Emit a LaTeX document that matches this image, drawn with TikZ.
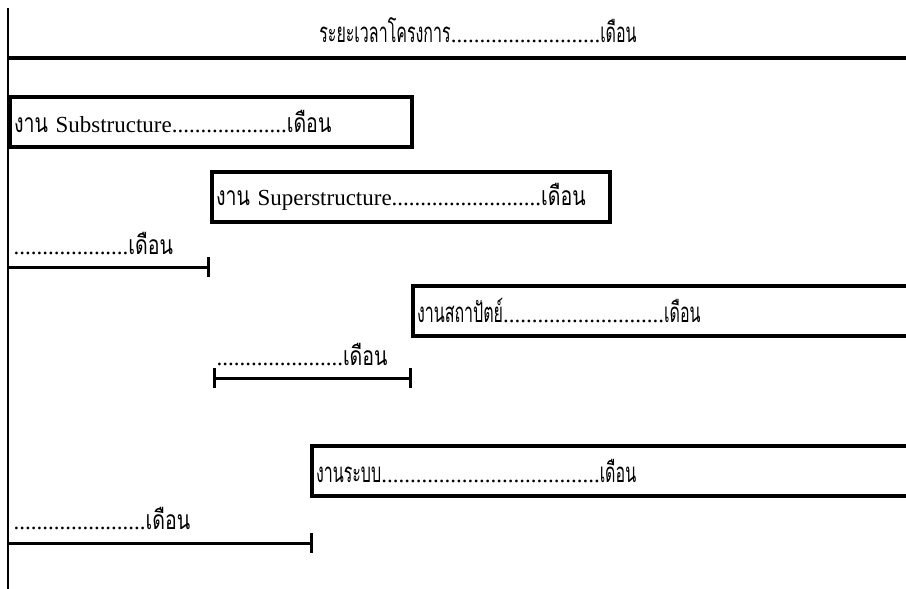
\documentclass[tikz,border=0pt]{standalone}
\usepackage{fontspec}
\setmainfont{Liberation Serif}
\newfontfamily\thaifont[Script=Thai,Scale=1.15,FakeStretch=0.74]{Loma}
\newfontfamily\thaititle[Script=Thai,Scale=1.2,FakeStretch=0.58]{Loma}
\usetikzlibrary{arrows.meta,positioning}

\begin{document}
\begin{tikzpicture}[x=1pt,y=-1pt,>={Bar[width=20pt,line width=3pt]},line width=3pt,
                    every node/.style={font=\fontsize{23}{28}\selectfont,inner sep=4pt}]
  \tikzstyle{taskbox}=[draw,line width=4pt,anchor=north west,minimum height=50pt,align=left]
  \tikzstyle{bartext}=[anchor=south west,inner sep=2pt]

  \clip (0,0) rectangle (906,589);

  \node (title) at (478,30) {{\thaititle ระยะเวลาโครงการ}..........................{\thaititle เดือน}};
  \draw[line width=3.5pt] (8,58) coordinate (tl) -- (906,58) coordinate (tr);
  \draw[line width=2pt] (8,8) coordinate (top) -- (8,589) coordinate (bot);

  \node[taskbox, text width=394pt] (sub)   at (8,95)   {\mbox{{\thaifont งาน} Substructure....................{\thaifont เดือน}}};
  \node[taskbox, text width=390pt] (super) at (210,170) {\mbox{{\thaifont งาน} Superstructure..........................{\thaifont เดือน}}};
  \node[taskbox, text width=500pt] (arch)  at (411,284) {\mbox{{\thaititle งานสถาปัตย์}............................{\thaititle เดือน}}};
  \node[taskbox, text width=600pt] (sys)   at (310,444) {\mbox{{\thaititle งานระบบ}......................................{\thaititle เดือน}}};

  \coordinate (s1) at (8,267);   \coordinate (e1) at (210,267);
  \coordinate (s2) at (213,378); \coordinate (e2) at (412,378);
  \coordinate (s3) at (8,543);   \coordinate (e3) at (313,543);

  \node[bartext] (d1) at (10,258)  {....................{\thaifont เดือน}};
  \node[bartext] (d2) at (213,369) {......................{\thaifont เดือน}};
  \node[bartext] (d3) at (10,533)  {.......................{\thaifont เดือน}};

  \draw[->]  (s1) -- (e1);
  \draw[<->] (s2) -- (e2);
  \draw[->]  (s3) -- (e3);
\end{tikzpicture}
\end{document}
